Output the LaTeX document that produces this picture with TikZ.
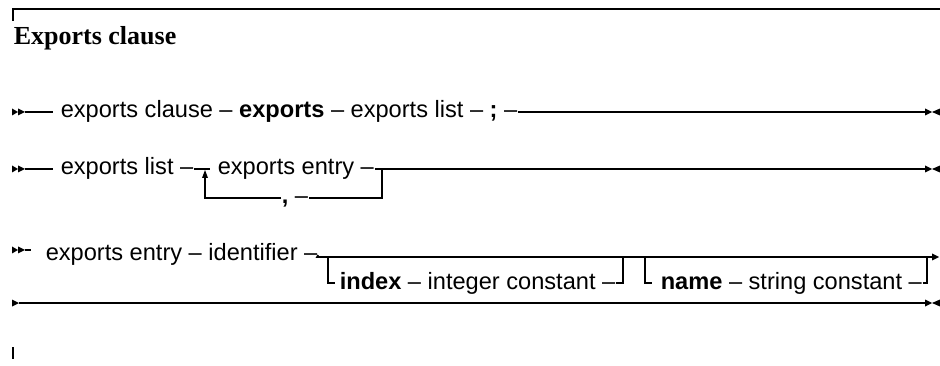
\documentclass[tikz,border=0pt]{standalone}
\usepackage{fontspec}
\setmainfont{Liberation Serif}
\newfontfamily\arialf[Ligatures=TeX]{Liberation Sans}
\begin{document}
\begin{tikzpicture}[x=1pt,y=-1pt,line width=1.6pt,
  lbl/.style={font=\arialf\fontsize{23.6}{28}\selectfont,anchor=west,inner sep=0pt,text height=17pt,text depth=5pt},
  ttl/.style={font=\bfseries\fontsize{26}{30}\selectfont,anchor=base west,inner sep=0pt},
  startmark/.pic={\fill (0,-3.5)--(6,0)--(0,3.5)--cycle; \fill (6,-3.5)--(13,0)--(6,3.5)--cycle;},
  onestart/.pic={\fill (0,-3.5)--(7,0)--(0,3.5)--cycle;},
  endmark/.pic={\fill (0,-3.5)--(7,0)--(0,3.5)--cycle; \fill (15,-3.5)--(7,0)--(15,3.5)--cycle;},
  arrowright/.pic={\fill (0,-3.5)--(7,0)--(0,3.5)--cycle;},
  uparrow/.pic={\fill (-3,0)--(0,-8)--(3,0)--cycle;}
]
\useasboundingbox (0,0) rectangle (940,366);

% frame marks
\coordinate (ruleA) at (12,9);
\coordinate (ruleB) at (940,9);
\coordinate (tickA) at (13,9);
\coordinate (tickB) at (13,21);
\coordinate (btA) at (13,347);
\coordinate (btB) at (13,359);
\draw[line width=2pt] (ruleA) -- (ruleB);
\draw[line width=1.3pt] (tickA) -- (tickB);
\draw[line width=1.3pt] (btA) -- (btB);

\node[ttl] (title) at (13,45) {Exports clause};

% Row 1
\pic at (12,112) {startmark};
\coordinate (r1a) at (25,112);
\coordinate (r1b) at (53,112);
\node[lbl] (t1) at (60,112) {exports clause – \textbf{exports} – exports list – \textbf{;} –};
\coordinate (r1e) at (925,112);
\draw (r1a) -- (r1b);
\draw (t1.east) -- (r1e);
\pic at (r1e) {endmark};

% Row 2
\pic at (12,169) {startmark};
\coordinate (r2a) at (25,169);
\coordinate (r2b) at (53,169);
\node[lbl] (t2a) at (60,169) {exports list –};
\coordinate (j1) at (205,169);
\coordinate (j1r) at (210,169);
\node[lbl] (t2b) at (217,169) {exports entry –};
\coordinate (k1) at (382,169);
\coordinate (k2) at (382,198);
\node[lbl] (tc) at (281,198) {\textbf{,} –};
\coordinate (j2) at (205,198);
\coordinate (jt) at (205,178);
\coordinate (r2e) at (925,169);
\draw (r2a) -- (r2b);
\draw (t2a.east) -- (j1r);
\draw (t2b.east) -- (r2e);
\draw (k1) -- (k2) -- (tc.east);
\draw (tc.west) -- (j2) -- (jt);
\pic at (jt) {uparrow};
\pic at (r2e) {endmark};

% Row 3
\pic at (12,250) {startmark};
\coordinate (r3a) at (25,250);
\coordinate (r3b) at (31,250);
\node[lbl] (t3) at (45,255) {exports entry – identifier –};
\coordinate (o0) at (317,257);
\coordinate (o9) at (932,257);
\draw (r3a) -- (r3b);
\draw (t3.east) -- (o0) -- (o9);
\pic at (o9) {arrowright};

% option index
\coordinate (a1) at (328,257);
\coordinate (a2) at (328,283);
\coordinate (a2s) at (335,283);
\node[lbl] (ti) at (339,283) {\textbf{index} – integer constant –};
\coordinate (a3) at (623,283);
\coordinate (a4) at (623,257);
\draw (a1) -- (a2) -- (a2s);
\draw (ti.east) -- (a3) -- (a4);

% option name
\coordinate (b1) at (645,257);
\coordinate (b2) at (645,283);
\coordinate (b2s) at (652,283);
\node[lbl] (tn) at (660,283) {\textbf{name} – string constant –};
\coordinate (b3) at (927,283);
\coordinate (b4) at (927,257);
\draw (b1) -- (b2) -- (b2s);
\draw (tn.east) -- (b3) -- (b4);

% Row 4
\pic at (12,303) {onestart};
\coordinate (r4a) at (19,303);
\coordinate (r4e) at (925,303);
\draw (r4a) -- (r4e);
\pic at (r4e) {endmark};
\end{tikzpicture}
\end{document}
